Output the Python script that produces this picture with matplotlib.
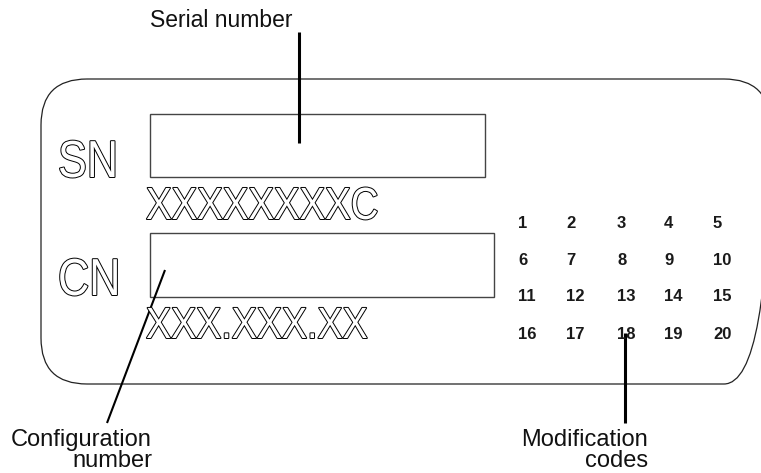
import matplotlib
matplotlib.use("Agg")
import matplotlib.pyplot as plt
import matplotlib.patheffects as pe
from matplotlib.patches import FancyBboxPatch, Rectangle
from matplotlib.transforms import Affine2D

# texts on the label
field_names = ["SN", "CN"]
field_formats = ["XXXXXXXXC", "XXX.XXX.XX"]
code_numbers = [[1, 2, 3, 4, 5],
                [6, 7, 8, 9, 10],
                [11, 12, 13, 14, 15],
                [16, 17, 18, 19, 20]]
callouts = ["Serial number", ("Configuration", "number"), ("Modification", "codes")]


class Squeeze(pe.AbstractPathEffect):
    """squeeze glyphs horizontally (no narrow font installed)"""
    def __init__(self, inner, sx):
        super().__init__()
        self.inner = inner
        self.sx = sx

    def draw_path(self, renderer, gc, tpath, affine, rgbFace=None):
        self.inner.draw_path(renderer, gc, tpath,
                             Affine2D().scale(self.sx, 1) + affine, rgbFace)


def outline(sx):
    return [Squeeze(pe.Stroke(linewidth=1.4, foreground="black"), sx),
            Squeeze(pe.Normal(), sx)]


W, H = 761, 473
fig = plt.figure(figsize=(W / 100, H / 100), dpi=100)
ax = fig.add_axes([0, 0, 1, 1])
ax.set_xlim(0, W)
ax.set_ylim(H, 0)
ax.axis("off")

label_font = ["Liberation Sans", "DejaVu Sans"]

# outline of the label (right side runs past the picture)
ax.add_patch(FancyBboxPatch((41, 79), 729, 305,
                            boxstyle="round,pad=0,rounding_size=46",
                            fill=False, ec="#222222", lw=0.9))

# SN / CN fields
ax.add_patch(Rectangle((150, 114), 335, 63, fill=False, ec="#444444", lw=1.0))
ax.add_patch(Rectangle((150, 233), 344, 64, fill=False, ec="#444444", lw=1.0))

ax.text(58, 177, field_names[0], fontsize=37.5, family=label_font, color="white",
        va="baseline", ha="left", path_effects=outline(0.83))
ax.text(58, 295, field_names[1], fontsize=37.5, family=label_font, color="white",
        va="baseline", ha="left", path_effects=outline(0.83))
ax.text(146, 219, field_formats[0], fontsize=32.5, family=label_font, color="white",
        va="baseline", ha="left", path_effects=outline(0.85))
ax.text(146, 338, field_formats[1], fontsize=31.5, family=label_font, color="white",
        va="baseline", ha="left", path_effects=outline(0.86))

# modification code grid
col_x = [518, 566, 617, 664, 713]
row_y = [228, 265, 301, 339]
for r, row in enumerate(code_numbers):
    for c, num in enumerate(row):
        ax.text(col_x[c], row_y[r], str(num), fontsize=12, fontweight="bold",
                family=label_font, color="#1a1a1a", va="baseline", ha="left")

# callout lines
ax.plot([299, 299], [32, 143], color="black", lw=2.2, solid_capstyle="butt")
ax.plot([165, 107], [270, 423], color="black", lw=1.5, solid_capstyle="butt")
ax.plot([625, 625], [333, 423], color="black", lw=2.2, solid_capstyle="butt")

# callout texts
ax.text(292, 27, callouts[0], fontsize=16.5, family=label_font,
        ha="right", va="baseline", color="#111111")
ax.text(152, 446, callouts[1][0], fontsize=17, family=label_font,
        ha="right", va="baseline", color="#111111")
ax.text(152, 467, callouts[1][1], fontsize=17, family=label_font,
        ha="right", va="baseline", color="#111111")
ax.text(648, 446, callouts[2][0], fontsize=17, family=label_font,
        ha="right", va="baseline", color="#111111")
ax.text(648, 467, callouts[2][1], fontsize=17, family=label_font,
        ha="right", va="baseline", color="#111111")

fig.savefig("out.png", dpi=100, facecolor="white")
